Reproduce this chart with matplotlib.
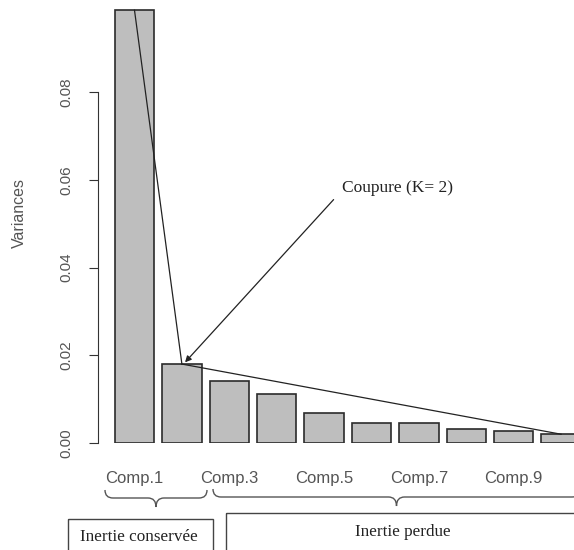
import numpy as np
import matplotlib.pyplot as plt
from matplotlib.patches import Rectangle, PathPatch
from matplotlib.path import Path
from matplotlib.transforms import Affine2D

# variances of the principal components (scree plot)
components = ['Comp.1', 'Comp.2', 'Comp.3', 'Comp.4', 'Comp.5',
              'Comp.6', 'Comp.7', 'Comp.8', 'Comp.9', 'Comp.10']
variances = [0.0987, 0.0180, 0.0142, 0.0111, 0.0068,
             0.0046, 0.0045, 0.0031, 0.0028, 0.0020]
yticks = [0.00, 0.02, 0.04, 0.06, 0.08]
k_cut = 2

W, H = 574, 550
fig = plt.figure(figsize=(W / 100, H / 100), dpi=100)
ax = fig.add_axes([0, (H - 443) / H, 1, 443 / H])

# R barplot layout: width 1, space 0.2
centers = 0.7 + 1.2 * np.arange(len(variances))
ax.bar(centers, variances, width=1.0, color='#bebebe', edgecolor='#2b2b2b',
       linewidth=1.2, zorder=2)
ax.set_xlim(-2.705, 11.827)
ax.set_ylim(0, 0.10103)

for s in ['top', 'right', 'bottom']:
    ax.spines[s].set_visible(False)
ax.spines['left'].set_position(('axes', 98 / W))
ax.spines['left'].set_bounds(0, 0.08)
ax.spines['left'].set_color('#333333')
ax.set_yticks(yticks)
ax.set_yticklabels(['%.2f' % v for v in yticks], rotation=90, va='center',
                   fontfamily='Liberation Sans', fontsize=11, color='#555555')
ax.tick_params(axis='y', length=6.5, pad=11, color='#333333')
ax.set_ylabel('Variances', fontfamily='Liberation Sans', fontsize=11.5,
              color='#555555')
ax.yaxis.set_label_coords(27 / W, 0.52)

ax.set_xticks(centers[::2])
ax.set_xticklabels(components[::2], fontfamily='Liberation Sans', fontsize=12,
                   color='#555555')
ax.tick_params(axis='x', length=0, pad=20)

# broken line from the first bar to the cut, then to the last bar
ax.plot([centers[0], centers[k_cut - 1]], [variances[0], variances[k_cut - 1]],
        color='#222222', lw=0.9, zorder=3)
ax.plot([centers[k_cut - 1], centers[-1]], [variances[k_cut - 1], variances[-1]],
        color='#222222', lw=0.9, zorder=3)

ax.annotate('Coupure (K= 2)',
            xy=(centers[k_cut - 1] + 0.08, variances[k_cut - 1] + 0.0004),
            xytext=(342, H - 188), textcoords='figure pixels',
            fontfamily='Liberation Serif', fontsize=12.5, color='#222222',
            va='center', ha='left',
            arrowprops=dict(arrowstyle='-|>', color='#222222', lw=0.9,
                            mutation_scale=9, relpos=(0, 0.35),
                            shrinkA=6, shrinkB=0))

# pixel coords measured from the top-left corner
px = Affine2D().scale(1 / W, -1 / H).translate(0, 1) + fig.transFigure


def brace(x0, x1, ytop, ymid, ybot, r=8):
    xm = (x0 + x1) / 2
    verts = [(x0, ytop), (x0, ymid), (x0 + r, ymid), (xm - r, ymid),
             (xm, ymid), (xm, ybot), (xm, ymid), (xm + r, ymid),
             (x1 - r, ymid), (x1, ymid), (x1, ytop)]
    codes = [Path.MOVETO, Path.CURVE3, Path.CURVE3, Path.LINETO,
             Path.CURVE3, Path.CURVE3, Path.CURVE3, Path.CURVE3,
             Path.LINETO, Path.CURVE3, Path.CURVE3]
    fig.patches.append(PathPatch(Path(verts, codes), transform=px, fill=False,
                                 edgecolor='#555555', lw=1.0))


brace(105, 207, 490, 498, 507)
brace(213, 580, 489, 497, 506)

fig.patches.append(Rectangle((68, 519), 145, 50, transform=px, fill=False,
                             edgecolor='#444444', lw=1.0))
fig.patches.append(Rectangle((226, 513), 360, 60, transform=px, fill=False,
                             edgecolor='#444444', lw=1.0))
fig.text(138.5 / W, 1 - 537 / H, 'Inertie conservée', ha='center', va='center',
         fontfamily='Liberation Serif', fontsize=12.3, color='#222222')
fig.text(403 / W, 1 - 532 / H, 'Inertie perdue', ha='center', va='center',
         fontfamily='Liberation Serif', fontsize=12.3, color='#222222')

fig.savefig('out.png', dpi=100)
